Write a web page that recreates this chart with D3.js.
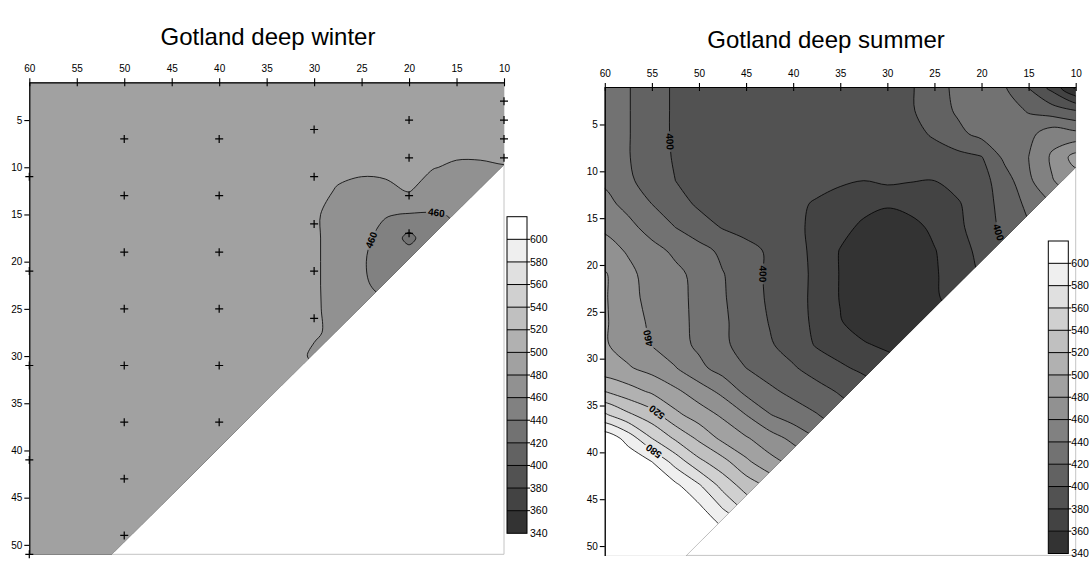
<!DOCTYPE html>
<html>
  <head>
    <meta charset="utf-8" />
    <title>Gotland deep winter / summer</title>
    <script src="https://cdn.jsdelivr.net/npm/d3@7"></script>
    <style type="text/css">
      body { margin: 0; background: #fff; }
      svg text { font-family: "Liberation Sans", Arial, sans-serif; }
    </style>
  </head>

  <body>
    <svg id="chart" width="1092" height="562"></svg>
    <script type="text/javascript">
      // grid columns (distance), same for both panels
      var gridX = [62.5, 60, 57.5, 55, 52.5, 50, 47.5, 45, 42.5, 40, 37.5, 35, 32.5, 30, 27.5, 25, 22.5, 20, 17.5, 15, 12.5, 10, 7.5];
      var winterY = [0, 2.5, 5, 7.5, 10, 12.5, 15, 17.5, 20, 22.5, 25, 27.5, 30, 32.5, 35, 37.5, 40, 42.5, 45, 47.5, 50, 52.5];
      var summerY = [-1.5, 1, 3.5, 6, 8.5, 11, 13.5, 16, 18.5, 21, 23.5, 26, 28.5, 31, 33.5, 36, 38.5, 41, 43.5, 46, 48.5, 51, 53.5];

      // values (one row per depth)
      var winter = [
        [490, 490, 490, 490, 490, 490, 490, 490, 490, 490, 490, 490, 490, 490, 490, 490, 490, 490, 490, 490, 490, 490, 490],
        [490, 490, 490, 490, 490, 490, 490, 490, 490, 490, 490, 490, 490, 490, 490, 490, 490, 490, 490, 490, 490, 490, 490],
        [490, 490, 490, 490, 490, 490, 490, 490, 490, 490, 490, 490, 490, 490, 490, 490, 490, 490, 490, 490, 490, 490, 490],
        [490, 490, 490, 490, 490, 490, 490, 490, 490, 490, 490, 490, 490, 490, 490, 489, 488, 489, 488, 487, 487, 488, 488],
        [490, 490, 490, 490, 490, 490, 490, 490, 490, 490, 490, 490, 490, 490, 486, 484, 484, 488, 481, 477, 477, 479, 479],
        [490, 490, 490, 490, 490, 490, 490, 490, 490, 490, 490, 490, 490, 488, 478, 474, 476, 481, 470, 468, 470, 472, 472],
        [490, 490, 490, 490, 490, 490, 490, 490, 490, 490, 490, 490, 490, 483, 472, 470, 461, 459, 459, 461, 460, 465, 465],
        [490, 490, 490, 490, 490, 490, 490, 490, 490, 490, 490, 490, 490, 483, 472, 464, 455, 434, 455, 458, 458, 462, 462],
        [490, 490, 490, 490, 490, 490, 490, 490, 490, 490, 490, 490, 490, 483, 472, 462, 452, 455, 455, 456, 458, 462, 462],
        [490, 490, 490, 490, 490, 490, 490, 490, 490, 490, 490, 490, 490, 483, 472, 463, 455, 458, 460, 460, 460, 462, 462],
        [490, 490, 490, 490, 490, 490, 490, 490, 490, 490, 490, 490, 490, 483, 473, 466, 465, 465, 465, 465, 465, 465, 465],
        [490, 490, 490, 490, 490, 490, 490, 490, 490, 490, 490, 490, 490, 483, 474, 470, 470, 470, 470, 470, 470, 470, 470],
        [490, 490, 490, 490, 490, 490, 490, 490, 490, 490, 490, 490, 490, 476, 475, 475, 475, 475, 475, 475, 475, 475, 475],
        [490, 490, 490, 490, 490, 490, 490, 490, 490, 490, 490, 490, 490, 490, 490, 490, 490, 490, 490, 490, 490, 490, 490],
        [490, 490, 490, 490, 490, 490, 490, 490, 490, 490, 490, 490, 490, 490, 490, 490, 490, 490, 490, 490, 490, 490, 490],
        [490, 490, 490, 490, 490, 490, 490, 490, 490, 490, 490, 490, 490, 490, 490, 490, 490, 490, 490, 490, 490, 490, 490],
        [490, 490, 490, 490, 490, 490, 490, 490, 490, 490, 490, 490, 490, 490, 490, 490, 490, 490, 490, 490, 490, 490, 490],
        [490, 490, 490, 490, 490, 490, 490, 490, 490, 490, 490, 490, 490, 490, 490, 490, 490, 490, 490, 490, 490, 490, 490],
        [490, 490, 490, 490, 490, 490, 490, 490, 490, 490, 490, 490, 490, 490, 490, 490, 490, 490, 490, 490, 490, 490, 490],
        [490, 490, 490, 490, 490, 490, 490, 490, 490, 490, 490, 490, 490, 490, 490, 490, 490, 490, 490, 490, 490, 490, 490],
        [490, 490, 490, 490, 490, 490, 490, 490, 490, 490, 490, 490, 490, 490, 490, 490, 490, 490, 490, 490, 490, 490, 490],
        [490, 490, 490, 490, 490, 490, 490, 490, 490, 490, 490, 490, 490, 490, 490, 490, 490, 490, 490, 490, 490, 490, 490]
      ];

      // values
      var summer = [
        [432, 430, 421, 409, 397, 393, 391, 390, 389, 389, 389, 389, 389, 390, 398, 412, 425, 436, 421, 399, 373, 335, 320],
        [432, 430, 421, 409, 397, 393, 391, 390, 389, 389, 389, 389, 389, 390, 398, 412, 425, 436, 421, 399, 373, 335, 320],
        [432, 430, 421, 409, 397, 393, 391, 390, 389, 389, 389, 389, 389, 390, 398, 410, 423, 436, 430, 418, 409, 400, 392],
        [432, 430, 421, 409, 397, 392, 390, 388, 388, 388, 388, 388, 388, 389, 393, 403, 415, 426, 431, 434, 452, 446, 445],
        [432, 430, 421, 409, 398, 393, 390, 387, 387, 387, 387, 387, 386, 386, 388, 390, 394, 399, 425, 440, 463, 488, 480],
        [440, 437, 423, 412, 400, 393, 390, 389, 388, 387, 386, 382, 380, 384, 381, 380, 387, 393, 411, 436, 459, 470, 465],
        [449, 446, 434, 420, 408, 397, 392, 390, 388, 384, 378, 374, 366, 362, 366, 373, 378, 392, 407, 425, 440, 455, 455],
        [460, 457, 446, 432, 420, 409, 399, 393, 389, 384, 376, 366, 356, 350, 354, 364, 376, 390, 405, 418, 430, 440, 440],
        [470, 468, 458, 447, 436, 427, 416, 407, 397, 387, 375, 359, 350, 345, 347, 359, 371, 386, 400, 410, 420, 430, 430],
        [484, 482, 465, 452, 445, 434, 421, 410, 396, 389, 375, 359, 348, 342, 344, 358, 369, 382, 393, 400, 410, 420, 420],
        [484, 482, 466, 454, 446, 435, 422, 410, 397, 388, 375, 359, 348, 342, 344, 358, 366, 370, 380, 390, 400, 410, 410],
        [484, 482, 470, 456, 447, 435, 423, 412, 399, 388, 376, 361, 350, 344, 347, 352, 360, 365, 375, 385, 395, 405, 405],
        [484, 482, 471, 459, 448, 436, 424, 412, 402, 392, 378, 371, 362, 356, 355, 355, 358, 362, 370, 380, 390, 400, 400],
        [490, 488, 482, 473, 461, 445, 432, 420, 411, 402, 392, 383, 376, 370, 362, 360, 360, 362, 370, 380, 390, 400, 400],
        [522, 520, 508, 497, 484, 470, 455, 435, 424, 415, 407, 398, 390, 380, 375, 370, 370, 370, 375, 385, 395, 400, 400],
        [567, 563, 544, 528, 505, 490, 477, 460, 441, 430, 421, 410, 400, 390, 385, 380, 380, 380, 380, 385, 395, 400, 400],
        [618, 615, 592, 560, 537, 516, 495, 482, 469, 455, 440, 425, 415, 405, 398, 392, 390, 390, 390, 392, 398, 400, 400],
        [628, 625, 615, 600, 572, 545, 527, 504, 486, 475, 460, 445, 430, 420, 410, 400, 398, 398, 398, 400, 400, 400, 400],
        [633, 630, 625, 615, 604, 582, 553, 531, 515, 500, 480, 465, 450, 435, 420, 410, 405, 400, 400, 400, 400, 400, 400],
        [638, 635, 630, 625, 615, 605, 580, 555, 535, 520, 500, 485, 470, 455, 440, 425, 415, 410, 405, 400, 400, 400, 400],
        [642, 640, 635, 630, 625, 620, 605, 590, 570, 550, 530, 510, 490, 470, 455, 440, 430, 420, 410, 405, 400, 400, 400],
        [645, 643, 640, 635, 630, 625, 615, 600, 585, 565, 545, 525, 505, 485, 465, 450, 440, 430, 420, 410, 405, 400, 400],
        [645, 643, 640, 635, 630, 625, 615, 600, 585, 565, 545, 525, 505, 485, 465, 450, 440, 430, 420, 410, 405, 400, 400]
      ];

      var levels = [340, 360, 380, 400, 420, 440, 460, 480, 500, 520, 540, 560, 580, 600];
      var xTicks = [60, 55, 50, 45, 40, 35, 30, 25, 20, 15, 10];
      var yTicks = [5, 10, 15, 20, 25, 30, 35, 40, 45, 50];

      // winter sampling stations
      var stations = [
        [60, 11], [60, 21], [60, 31], [60, 41], [60, 51],
        [50, 7], [50, 13], [50, 19], [50, 25], [50, 31], [50, 37], [50, 43], [50, 49],
        [40, 7], [40, 13], [40, 19], [40, 25], [40, 31], [40, 37],
        [30, 6], [30, 11], [30, 16], [30, 21], [30, 26],
        [20, 5], [20, 9], [20, 13], [20, 17],
        [10, 3], [10, 5], [10, 7], [10, 9]
      ];

      // edge of the mapped area (outside is blank)
      var winterEdge = [[60, 1], [10, 1], [10, 9.7], [51.3, 51], [60, 51]];
      var summerEdge = [[60, 1], [10, 1], [10, 9.6], [51.4, 51], [60, 51]];

      // contour labels: value, where it sits, reading direction range
      var winterLabels = [
        { v: 460, x: 17.1, y: 15.0, lo: -90 },
        { v: 460, x: 23.8, y: 17.8, lo: -180 }
      ];
      var summerLabels = [
        { v: 400, x: 53.2, y: 6.8, lo: 0 },
        { v: 400, x: 43.1, y: 20.9, lo: 0 },
        { v: 400, x: 18.1, y: 16.5, lo: 0 },
        { v: 460, x: 55.5, y: 27.8, lo: -180 },
        { v: 520, x: 54.5, y: 35.8, lo: -180 },
        { v: 580, x: 54.8, y: 39.8, lo: -180 }
      ];

      var svg = d3.select('#chart');

      function shade(k) {
        var g = Math.round(51 + Math.max(0, Math.min(13, k)) * 204 / 13);
        return d3.rgb(g, g, g).formatHex();
      }

      function drawPanel(p) {
        var x = d3.scaleLinear().domain([60, 10]).range([p.left, p.right]);
        var y = d3.scaleLinear().domain([1, 51]).range([p.top, p.bottom]);
        var nx = gridX.length, ny = p.gy.length;
        var sx = gridX[1] - gridX[0], sy = p.gy[1] - p.gy[0];
        var gx = (c) => x(gridX[0] + (c - 0.5) * sx);
        var gy = (c) => y(p.gy[0] + (c - 0.5) * sy);

        var contours = d3.contours().size([nx, ny]).thresholds(levels)(p.grid.flat());
        var closed = d3.line().curve(d3.curveCatmullRomClosed);
        var ringD = (r) => closed(r.slice(0, -1).map((q) => [gx(q[0]), gy(q[1])]));

        var clipId = p.id + '-clip', maskId = p.id + '-mask';
        svg.append('clipPath').attr('id', clipId)
          .append('path')
          .attr('d', d3.line()(p.edge.map((e) => [x(e[0]), y(e[1])])) + 'Z');

        var mask = svg.append('mask').attr('id', maskId)
          .attr('maskUnits', 'userSpaceOnUse')
          .attr('x', 0).attr('y', 0).attr('width', 1092).attr('height', 562);
        mask.append('rect').attr('width', 1092).attr('height', 562).attr('fill', '#fff');

        var g = svg.append('g');

        // light frame right / bottom
        g.append('path')
          .attr('d', 'M' + x(10) + ',' + y(1) + 'V' + y(51) + 'H' + x(60))
          .attr('fill', 'none').attr('stroke', '#c4c4c4').attr('stroke-width', 1);

        var fills = g.append('g').attr('clip-path', 'url(#' + clipId + ')');
        fills.append('rect')
          .attr('x', p.left).attr('y', p.top)
          .attr('width', p.right - p.left).attr('height', p.bottom - p.top)
          .attr('fill', shade(0));
        fills.selectAll('path')
          .data(contours)
          .join('path')
          .attr('fill-rule', 'evenodd')
          .attr('fill', (c, k) => shade(k))
          .attr('d', (c) => c.coordinates.map((poly) => poly.map(ringD).join('')).join(''));

        var rings = [];
        contours.forEach((c) => c.coordinates.forEach((poly) => poly.forEach((r) => rings.push({ v: c.value, r: r }))));

        var lines = g.append('g').attr('clip-path', 'url(#' + clipId + ')')
          .append('g').attr('mask', 'url(#' + maskId + ')');
        lines.selectAll('path')
          .data(rings)
          .join('path')
          .attr('d', (d) => ringD(d.r))
          .attr('fill', 'none')
          .attr('stroke', '#000')
          .attr('stroke-width', 0.8);

        // contour labels, placed on the nearest point of their line
        p.labels.forEach(function (lb) {
          var ax = x(lb.x), ay = y(lb.y), best = null;
          lines.selectAll('path').filter((d) => d.v === lb.v).each(function () {
            var L = this.getTotalLength();
            for (var s = 0; s <= L; s += 1) {
              var q = this.getPointAtLength(s);
              var dd = (q.x - ax) * (q.x - ax) + (q.y - ay) * (q.y - ay);
              if (!best || dd < best.dd) best = { dd: dd, s: s, el: this, L: L };
            }
          });
          if (!best) return;
          var a = best.el.getPointAtLength(Math.max(0, best.s - 5));
          var b = best.el.getPointAtLength(Math.min(best.L, best.s + 5));
          var c = best.el.getPointAtLength(best.s);
          var ang = Math.atan2(b.y - a.y, b.x - a.x) * 180 / Math.PI;
          while (ang < lb.lo) ang += 180;
          while (ang >= lb.lo + 180) ang -= 180;
          var tr = 'translate(' + c.x + ',' + c.y + ') rotate(' + ang + ')';
          var t = g.append('text')
            .attr('transform', tr)
            .attr('text-anchor', 'middle')
            .attr('dy', '0.35em')
            .attr('font-size', 10)
            .attr('font-weight', 'bold')
            .text(lb.v);
          var w = t.node().getComputedTextLength() + 4;
          mask.append('rect')
            .attr('transform', tr)
            .attr('x', -w / 2).attr('y', -5).attr('width', w).attr('height', 10)
            .attr('fill', '#000');
        });

        // stations
        g.selectAll('path.st')
          .data(p.stations)
          .join('path')
          .attr('class', 'st')
          .attr('d', (d) => 'M' + (x(d[0]) - 4) + ',' + y(d[1]) + 'h8M' + x(d[0]) + ',' + (y(d[1]) - 4) + 'v8')
          .attr('stroke', '#000')
          .attr('stroke-width', 1.2);

        // axes
        var top = g.append('g')
          .attr('transform', 'translate(0,' + p.top + ')')
          .call(d3.axisTop(x).tickValues(xTicks).tickSize(4).tickSizeOuter(0).tickPadding(6));
        top.selectAll('.tick line').attr('y1', 4);
        var left = g.append('g')
          .attr('transform', 'translate(' + p.left + ',0)')
          .call(d3.axisLeft(y).tickValues(yTicks).tickSize(5).tickSizeOuter(0).tickPadding(2));
        [top, left].forEach(function (a) {
          a.attr('font-family', '"Liberation Sans", Arial, sans-serif').attr('font-size', 10);
          a.select('.domain').attr('stroke-width', 1.2);
          a.selectAll('.tick line').attr('stroke-width', 1.1);
        });

        // colour bar
        var cb = d3.scaleLinear().domain([340, 620]).range([p.bar.bottom, p.bar.top]);
        var bar = g.append('g');
        bar.selectAll('rect')
          .data(levels)
          .join('rect')
          .attr('x', p.bar.x)
          .attr('y', (v) => cb(v + 20))
          .attr('width', p.bar.w)
          .attr('height', (v) => cb(v) - cb(v + 20))
          .attr('fill', (v, k) => shade(k));
        bar.selectAll('line')
          .data(levels.slice(1))
          .join('line')
          .attr('x1', p.bar.x).attr('x2', p.bar.x + p.bar.w + 3)
          .attr('y1', (v) => cb(v)).attr('y2', (v) => cb(v))
          .attr('stroke', '#000').attr('stroke-width', 1);
        bar.append('rect')
          .attr('x', p.bar.x).attr('y', p.bar.top)
          .attr('width', p.bar.w).attr('height', p.bar.bottom - p.bar.top)
          .attr('fill', 'none').attr('stroke', '#000').attr('stroke-width', 1);
        bar.selectAll('text')
          .data(levels)
          .join('text')
          .attr('x', p.bar.x + p.bar.w + 3)
          .attr('y', (v) => cb(v))
          .attr('dy', '0.35em')
          .attr('font-size', 10.5)
          .text((v) => v);

        svg.append('text')
          .attr('x', p.titleX).attr('y', p.titleY)
          .attr('text-anchor', 'middle')
          .attr('font-size', 24)
          .text(p.title);
      }

      drawPanel({
        id: 'w', grid: winter, gy: winterY, edge: winterEdge, labels: winterLabels, stations: stations,
        title: 'Gotland deep winter',
        left: 29.3, right: 504, top: 82.3, bottom: 554.3,
        titleX: 268, titleY: 45,
        bar: { x: 507, w: 20, top: 216.7, bottom: 533.3 }
      });
      drawPanel({
        id: 's', grid: summer, gy: summerY, edge: summerEdge, labels: summerLabels, stations: [],
        title: 'Gotland deep summer',
        left: 604.8, right: 1075.7, top: 87, bottom: 555.4,
        titleX: 826, titleY: 48,
        bar: { x: 1048.3, w: 20, top: 241, bottom: 553.5 }
      });
    </script>
  </body>
</html>
